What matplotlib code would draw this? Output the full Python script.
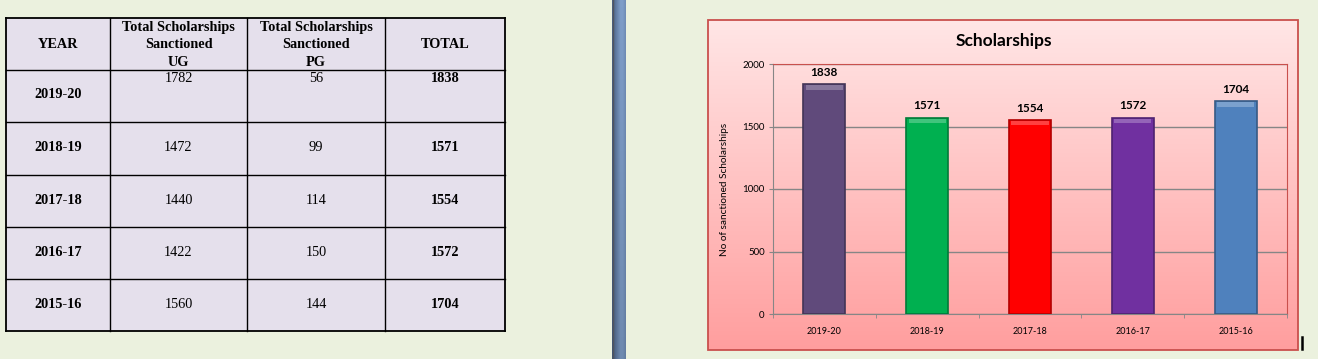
import numpy as np
import matplotlib.pyplot as plt
from matplotlib.patches import Rectangle
from matplotlib.colors import to_rgb

# data
years = ['2019-20', '2018-19', '2017-18', '2016-17', '2015-16']
ug = [1782, 1472, 1440, 1422, 1560]
pg = [56, 99, 114, 150, 144]
total = [1838, 1571, 1554, 1572, 1704]
bar_colors = ['#604A7B', '#00B050', '#FF0000', '#7030A0', '#4F81BD']
header_lines = [['YEAR'],
                ['Total Scholarships', 'Sanctioned', 'UG'],
                ['Total Scholarships', 'Sanctioned', 'PG'],
                ['TOTAL']]
y_ticks = [0, 500, 1000, 1500, 2000]

W, H = 1318, 359
fig = plt.figure(figsize=(W / 100, H / 100), dpi=100)
fig.patch.set_facecolor('#EBF1DE')

# pixel overlay for table, divider and chart frame
bg = fig.add_axes([0, 0, 1, 1])
bg.set_xlim(0, W)
bg.set_ylim(H, 0)
bg.axis('off')

# --- table ---
col_x = [6, 110, 247, 385, 505]
row_y = [18, 70, 122, 175, 227, 279, 331]
bg.add_patch(Rectangle((col_x[0], row_y[0]), col_x[-1] - col_x[0], row_y[-1] - row_y[0],
                       facecolor='#E5E0EC', edgecolor='none'))
for x in col_x:
    bg.plot([x, x], [row_y[0], row_y[-1]], color='black', lw=1.3 if x in (col_x[0], col_x[-1]) else 1)
for y in row_y:
    bg.plot([col_x[0], col_x[-1]], [y, y], color='black', lw=1.3 if y in (row_y[0], row_y[-1]) else 1)

serif = 'Liberation Serif'
fs_tab = 10.3
for c, lines in enumerate(header_lines):
    cx = (col_x[c] + col_x[c + 1]) / 2
    ys = [44] if len(lines) == 1 else [27, 44, 62]
    for ln, yy in zip(lines, ys):
        bg.text(cx, yy, ln, ha='center', va='center', family=serif, fontsize=fs_tab, fontweight='bold')

for r in range(len(years)):
    top, bot = row_y[r + 1], row_y[r + 2]
    yc = (top + bot) / 2 - 1
    yv = top + 8 if r == 0 else yc
    cxs = [(col_x[c] + col_x[c + 1]) / 2 for c in range(4)]
    bg.text(cxs[0], yc, years[r], ha='center', va='center', family=serif, fontsize=fs_tab, fontweight='bold')
    bg.text(cxs[1], yv, str(ug[r]), ha='center', va='center', family=serif, fontsize=fs_tab)
    bg.text(cxs[2], yv, str(pg[r]), ha='center', va='center', family=serif, fontsize=fs_tab)
    bg.text(cxs[3], yv, str(total[r]), ha='center', va='center', family=serif, fontsize=fs_tab, fontweight='bold')

# --- blue divider ---
xs = np.linspace(0, 1, 14)
ys_ = np.linspace(0, 1, 50)
dark, light = np.array(to_rgb('#4A6185')), np.array(to_rgb('#7E9DC8'))
hprof = np.clip(xs * 1.6, 0, 1) * (1 - 0.25 * np.clip((xs - 0.8) * 5, 0, 1))
grad = dark[None, None, :] + (light - dark)[None, None, :] * hprof[None, :, None]
grad = grad * (1 - 0.12 * ys_[:, None, None])
bg.imshow(np.clip(grad, 0, 1), extent=(612, 626, H, 0), origin='upper', aspect='auto', zorder=1)
bg.plot([612.5, 612.5], [0, H], color='#505560', lw=1, zorder=2)

# --- chart frame with gradient ---
top_c, bot_c = np.array(to_rgb('#FFE6E6')), np.array(to_rgb('#FF9E9E'))
t = np.linspace(0, 1, 200)[:, None, None]
fgrad = top_c[None, None, :] * (1 - t) + bot_c[None, None, :] * t
bg.imshow(fgrad, extent=(708, 1298, 350, 20), origin='upper', aspect='auto', zorder=1)
bg.add_patch(Rectangle((708, 20), 590, 330, facecolor='none', edgecolor='#C9504D', lw=1.3, zorder=2))
bg.set_xlim(0, W)
bg.set_ylim(H, 0)

# text cursor mark
bg.plot([1302, 1302], [337, 349], color='black', lw=1.8)

fig.text(1004 / W, 1 - 41 / H, 'Scholarships', ha='center', va='center',
         family='Lato', fontsize=12.5, fontweight='bold')

# --- bar chart ---
ax = fig.add_axes([773 / W, (H - 314) / H, 514 / W, 250 / H])
ax.patch.set_alpha(0)
x = np.arange(len(years))


def shade(c, f):
    r = np.array(to_rgb(c))
    return tuple(r * f) if f < 1 else tuple(r + (1 - r) * (f - 1))


ax.bar(x, total, width=0.41, color=bar_colors,
       edgecolor=[shade(c, 0.7) for c in bar_colors], lw=1.2, zorder=3)
ax.bar(x, [36] * len(x), bottom=np.array(total) - 44, width=0.36,
       color=[shade(c, 1.25) for c in bar_colors], lw=0, zorder=4)
for xi, v in zip(x, total):
    ax.annotate(str(v), (xi, v), xytext=(0, 4.5), textcoords='offset points',
                ha='center', va='bottom', family='Lato', fontsize=8.5, fontweight='bold')

ax.set_xlim(-0.5, len(years) - 0.5)
ax.set_ylim(0, 2000)
ax.set_yticks(y_ticks)
ax.set_xticks(x)
ax.set_xticklabels(years, family='Lato', fontsize=6.5)
ax.set_xticks(np.arange(-0.5, len(years), 1), minor=True)
ax.tick_params(axis='x', which='major', length=0, pad=9)
ax.tick_params(axis='x', which='minor', length=3, color='#868686')
ax.tick_params(axis='y', length=3, color='#868686', pad=3, labelsize=7)
for lbl in ax.get_yticklabels():
    lbl.set_family('Lato')
ax.yaxis.grid(True, color='#868686', lw=1)
ax.set_axisbelow(True)
for s in ('left', 'bottom'):
    ax.spines[s].set_color('#868686')
for s in ('top', 'right'):
    ax.spines[s].set_color('#C9504D')
ax.set_ylabel('No of sanctioned Scholarships', family='Lato', fontsize=7.2)
ax.yaxis.set_label_coords((729 - 773) / 514, 0.5)

fig.savefig('out.png', dpi=100, facecolor=fig.get_facecolor())
